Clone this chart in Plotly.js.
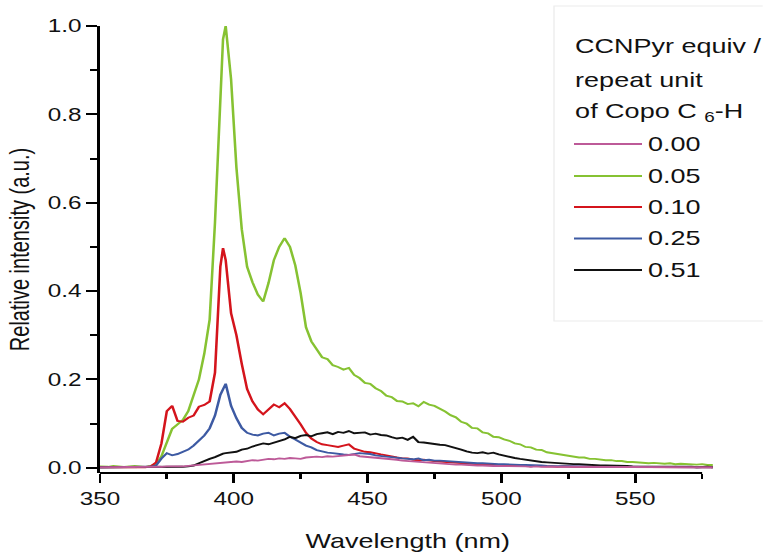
<!DOCTYPE html>
<html>
<head>
<meta charset="utf-8">
<script src="https://cdn.plot.ly/plotly-3.0.1.min.js"></script>
<style>
html,body{margin:0;padding:0;background:#fff;overflow:hidden;width:763px;height:556px;}
#chart{width:565px;height:556px;transform:scaleX(1.35);transform-origin:0 0;}
</style>
</head>
<body>
<div id="chart"></div>
<script>
// ---- data ----
const wavelength = [350,
 351,353,355,357,359,
 361,363,365,367,369,
 371,373,375,377,379,
 381,383,385,387,389,
 391,393,395,396,397,399,
 401,403,405,407,409,
 411,413,415,417,419,
 421,423,425,427,429,
 431,433,435,437,439,
 441,443,445,447,449,
 451,453,455,457,459,
 461,463,465,467,469,
 471,473,475,477,479,
 481,483,485,487,489,
 491,493,495,497,499,
 501,503,505,507,509,
 511,513,515,517,519,
 521,523,525,527,529,
 531,533,535,537,539,
 541,543,545,547,549,
 551,553,555,557,559,
 561,563,565,567,569,
 571,573,575,577,579];

const equiv000 = [0.001,
 0.001,0.002,0.001,0.002,0.001,
 0.002,0.001,0.002,0.002,0.002,
 0.002,0.002,0.003,0.003,0.002,
 0.003,0.004,0.005,0.006,0.008,
 0.009,0.010,0.011,0.011,0.012,0.013,
 0.014,0.013,0.015,0.017,0.016,
 0.018,0.020,0.019,0.021,0.020,
 0.022,0.021,0.020,0.023,0.024,
 0.025,0.024,0.026,0.025,0.026,
 0.027,0.028,0.030,0.026,0.025,
 0.024,0.023,0.022,0.021,0.020,
 0.018,0.016,0.015,0.014,0.013,
 0.012,0.011,0.010,0.009,0.008,
 0.008,0.007,0.007,0.006,0.006,
 0.005,0.005,0.004,0.004,0.004,
 0.004,0.003,0.003,0.003,0.003,
 0.002,0.003,0.002,0.002,0.002,
 0.002,0.002,0.001,0.002,0.002,
 0.002,0.001,0.002,0.002,0.001,
 0.002,0.001,0.001,0.002,0.001,
 0.001,0.002,0.001,0.001,0.001,
 0.001,0.001,0.002,0.001,0.001,
 0.001,0.001,0.001,0.001,0.001];

const equiv005 = [0.003,
 0.003,0.002,0.004,0.003,0.002,
 0.003,0.004,0.003,0.002,0.004,
 0.008,0.026,0.060,0.088,0.098,
 0.108,0.128,0.163,0.200,0.258,
 0.335,0.555,0.870,0.970,1.000,0.880,
 0.680,0.540,0.455,0.420,0.392,
 0.376,0.418,0.470,0.500,0.520,
 0.500,0.458,0.395,0.318,0.286,
 0.266,0.250,0.246,0.232,0.228,
 0.222,0.226,0.210,0.203,0.192,
 0.190,0.180,0.174,0.163,0.160,
 0.151,0.150,0.144,0.146,0.139,
 0.149,0.143,0.140,0.134,0.127,
 0.119,0.114,0.104,0.100,0.090,
 0.089,0.080,0.078,0.070,0.069,
 0.064,0.061,0.055,0.053,0.047,
 0.046,0.041,0.040,0.035,0.033,
 0.031,0.029,0.027,0.026,0.023,
 0.023,0.020,0.020,0.018,0.017,
 0.017,0.015,0.015,0.013,0.013,
 0.012,0.012,0.010,0.011,0.010,
 0.009,0.010,0.008,0.009,0.008,
 0.008,0.007,0.008,0.006,0.006];

const equiv010 = [0.001,
 0.001,0.002,0.001,0.001,0.002,
 0.001,0.002,0.002,0.001,0.003,
 0.012,0.055,0.128,0.140,0.106,
 0.104,0.113,0.118,0.138,0.142,
 0.150,0.215,0.455,0.497,0.470,0.350,
 0.300,0.235,0.178,0.150,0.132,
 0.121,0.131,0.143,0.137,0.146,
 0.133,0.117,0.098,0.079,0.066,
 0.058,0.053,0.051,0.049,0.047,
 0.050,0.053,0.043,0.040,0.036,
 0.035,0.032,0.030,0.028,0.025,
 0.023,0.021,0.021,0.018,0.017,
 0.018,0.016,0.015,0.014,0.013,
 0.012,0.011,0.010,0.010,0.008,
 0.008,0.007,0.007,0.006,0.005,
 0.005,0.005,0.004,0.004,0.004,
 0.003,0.004,0.003,0.003,0.003,
 0.002,0.003,0.002,0.002,0.002,
 0.002,0.002,0.001,0.002,0.002,
 0.002,0.001,0.002,0.001,0.002,
 0.001,0.002,0.001,0.001,0.001,
 0.001,0.001,0.002,0.001,0.001,
 0.001,0.001,0.001,0.001,0.001];

const equiv025 = [0.001,
 0.001,0.001,0.002,0.001,0.001,
 0.002,0.001,0.001,0.002,0.002,
 0.005,0.021,0.033,0.028,0.031,
 0.036,0.041,0.050,0.061,0.073,
 0.089,0.118,0.165,0.180,0.190,0.140,
 0.112,0.090,0.079,0.075,0.073,
 0.077,0.079,0.073,0.077,0.079,
 0.070,0.064,0.056,0.050,0.046,
 0.040,0.037,0.034,0.033,0.031,
 0.030,0.029,0.031,0.033,0.032,
 0.031,0.028,0.026,0.025,0.024,
 0.022,0.021,0.020,0.019,0.021,
 0.017,0.018,0.016,0.016,0.015,
 0.014,0.013,0.012,0.011,0.011,
 0.010,0.010,0.009,0.009,0.008,
 0.008,0.007,0.007,0.006,0.006,
 0.006,0.005,0.005,0.004,0.004,
 0.004,0.003,0.004,0.003,0.003,
 0.003,0.003,0.002,0.003,0.002,
 0.002,0.002,0.002,0.002,0.002,
 0.002,0.001,0.002,0.002,0.001,
 0.001,0.002,0.001,0.001,0.001,
 0.001,0.001,0.001,0.001,0.001];

const equiv051 = [0.001,
 0.001,0.001,0.002,0.001,0.001,
 0.001,0.002,0.001,0.001,0.002,
 0.001,0.002,0.002,0.001,0.002,
 0.002,0.003,0.005,0.010,0.016,
 0.020,0.024,0.030,0.032,0.033,0.035,
 0.036,0.041,0.043,0.048,0.052,
 0.055,0.053,0.057,0.060,0.064,
 0.070,0.067,0.072,0.074,0.071,
 0.076,0.078,0.080,0.076,0.081,
 0.079,0.083,0.078,0.079,0.080,
 0.075,0.077,0.074,0.073,0.069,
 0.066,0.068,0.063,0.070,0.058,
 0.057,0.055,0.054,0.052,0.051,
 0.048,0.044,0.041,0.037,0.034,
 0.033,0.035,0.032,0.034,0.030,
 0.027,0.024,0.022,0.020,0.018,
 0.016,0.014,0.013,0.012,0.011,
 0.010,0.010,0.009,0.008,0.008,
 0.007,0.006,0.006,0.005,0.005,
 0.005,0.004,0.004,0.004,0.003,
 0.003,0.003,0.002,0.003,0.002,
 0.002,0.002,0.002,0.002,0.002,
 0.002,0.001,0.002,0.002,0.001];

const seriesNames = ['0.00', '0.05', '0.10', '0.25', '0.51'];
const seriesValues = [equiv000, equiv005, equiv010, equiv025, equiv051];
const seriesColors = ['#bd5a98', '#86c232', '#d4141c', '#3d5aa3', '#111111'];
const legendTitleLines = ['CCNPyr equiv /', 'repeat unit', 'of Copo C <sub>6</sub>-H'];
const xTickVals = [350, 400, 450, 500, 550];
const yTickVals = [0, 0.2, 0.4, 0.6, 0.8, 1.0];

// ---- layout geometry ----
// the reference picture is horizontally stretched; the chart is drawn narrower and scaled in CSS
const K = 1.35;
const W = 565, H = 556;
const M = {l: 74, r: 35, t: 26, b: 83};
const plotW = W - M.l - M.r, plotH = H - M.t - M.b;
const px = x => (x / K - M.l) / plotW;   // picture pixel -> paper x
const py = y => (H - M.b - y) / plotH;   // picture pixel -> paper y
const FONT = 'Liberation Sans, Arial, Helvetica, sans-serif';

// draw order: green, red, blue, black, pink on top
const drawOrder = [1, 2, 3, 4, 0];
const traces = drawOrder.map(i => ({
  type: 'scatter', mode: 'lines',
  x: wavelength, y: seriesValues[i], name: seriesNames[i],
  line: {color: seriesColors[i], width: 1.9},
  showlegend: false, hoverinfo: 'x+y+name'
}));

const shapes = [
  {type: 'line', xref: 'x', yref: 'paper', x0: 350, x1: 575, y0: 0, y1: 0,
   line: {color: '#000', width: 2}},
  {type: 'rect', xref: 'paper', yref: 'paper', x0: px(554), x1: px(775), y0: py(321), y1: py(6),
   line: {color: '#ececec', width: 1}, fillcolor: 'rgba(0,0,0,0)', layer: 'below'}
];
const annotations = [];
const titleY = [46, 80, 112];
legendTitleLines.forEach((t, k) => annotations.push({
  xref: 'paper', yref: 'paper', x: px(572), y: py(titleY[k]), xanchor: 'left', yanchor: 'middle',
  text: t, showarrow: false, font: {family: FONT, size: 20, color: '#111'}
}));
const itemY = [144, 176, 207, 238.5, 270];
seriesNames.forEach((n, i) => {
  shapes.push({type: 'line', xref: 'paper', yref: 'paper', x0: px(574), x1: px(642),
    y0: py(itemY[i]), y1: py(itemY[i]), line: {color: seriesColors[i], width: 2}});
  annotations.push({xref: 'paper', yref: 'paper', x: px(645), y: py(itemY[i]),
    xanchor: 'left', yanchor: 'middle', text: n, showarrow: false,
    font: {family: FONT, size: 20, color: '#111'}});
});

const layout = {
  width: W, height: H,
  margin: M,
  paper_bgcolor: '#fff', plot_bgcolor: '#fff',
  font: {family: FONT, color: '#111', size: 18},
  showlegend: false,
  xaxis: {
    range: [350, 580], showgrid: false, zeroline: false, showline: false,
    tickmode: 'array', tickvals: xTickVals, ticktext: xTickVals.map(String),
    ticks: 'outside', ticklen: 9, tickwidth: 2, tickcolor: '#000',
    minor: {tickmode: 'linear', tick0: 350, dtick: 25, ticks: 'outside', ticklen: 5, tickwidth: 2, tickcolor: '#000'},
    tickfont: {family: FONT, size: 18, color: '#111'},
    title: {text: 'Wavelength (nm)', font: {family: FONT, size: 20, color: '#111'}, standoff: 26},
    automargin: false
  },
  yaxis: {
    range: [-0.012, 1.0], showgrid: false, zeroline: false,
    showline: true, linecolor: '#000', linewidth: 2,
    tickmode: 'array', tickvals: yTickVals, ticktext: yTickVals.map(v => v.toFixed(1)),
    ticks: 'outside', ticklen: 8, tickwidth: 2, tickcolor: '#000',
    minor: {tickmode: 'linear', tick0: 0, dtick: 0.1, ticks: 'outside', ticklen: 5, tickwidth: 2, tickcolor: '#000'},
    tickfont: {family: FONT, size: 18, color: '#111'},
    title: {text: 'Relative intensity (a.u.)', font: {family: FONT, size: 20, color: '#111'}, standoff: 8},
    automargin: false
  },
  shapes: shapes,
  annotations: annotations
};

Plotly.newPlot('chart', traces, layout, {staticPlot: true, displayModeBar: false});
</script>
</body>
</html>
